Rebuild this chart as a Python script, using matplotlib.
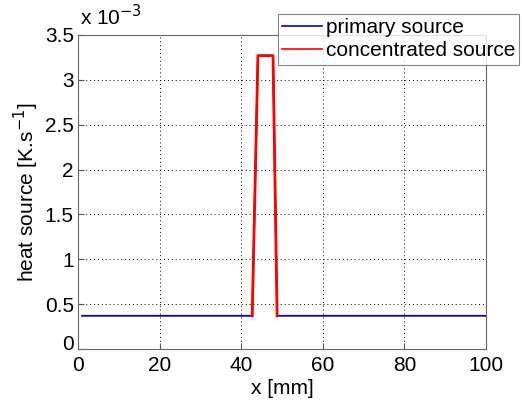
import matplotlib.pyplot as plt
import matplotlib.transforms as mtransforms
from matplotlib.ticker import FuncFormatter

plt.rcParams['font.family'] = ['Liberation Sans', 'DejaVu Sans']

# primary source (baseline with the peak underneath the red curve)
x_primary = [1, 42.7, 44.1, 47.8, 48.8, 100]
q_primary = [0.37e-3, 0.37e-3, 3.27e-3, 3.27e-3, 0.37e-3, 0.37e-3]

# concentrated source (only the peak)
x_conc = [42.7, 44.1, 47.8, 48.8]
q_conc = [0.37e-3, 3.27e-3, 3.27e-3, 0.37e-3]

x_ticks = [0, 20, 40, 60, 80, 100]
y_ticks = [0, 0.5e-3, 1e-3, 1.5e-3, 2e-3, 2.5e-3, 3e-3, 3.5e-3]

fs = 15

fig = plt.figure(figsize=(5.22, 4.04), dpi=100)
ax = fig.add_axes([78 / 522, 1 - 349 / 404, 408 / 522, 314 / 404])

ax.plot(x_primary, q_primary, color='#0000cc', lw=1.3, label='primary source')
ax.plot(x_conc, q_conc, color='#ff0000', lw=2.0, label='concentrated source')

ax.set_xlim(0, 100)
ax.set_ylim(0, 3.5e-3)
ax.set_xticks(x_ticks)
ax.set_yticks(y_ticks)
ax.yaxis.set_major_formatter(FuncFormatter(lambda v, p: f"{v * 1e3:g}"))
ax.grid(True, color='black', linestyle=(0, (1, 3)), linewidth=0.7)
ax.tick_params(direction='in', labelsize=fs, length=4, color='#555555')
ax.tick_params(axis='x', pad=5)
ax.tick_params(axis='y', pad=3)
for s in ax.spines.values():
    s.set_color('#666666')

ax.set_xlabel('x [mm]', fontsize=fs, labelpad=3)
ax.set_ylabel('heat source [K.s$^{-1}$]', fontsize=fs, labelpad=3)
fig.text(80 / 522, 1 - 17 / 404, 'x 10$^{-3}$', fontsize=fs, ha='left', va='center')

# MATLAB lifts the y "0" a little off the corner
fig.canvas.draw()
lab0 = ax.get_yticklabels()[0]
lab0.set_transform(lab0.get_transform() +
                   mtransforms.ScaledTranslation(0, 6 / 100, fig.dpi_scale_trans))

leg = fig.legend(loc='upper left', bbox_to_anchor=(278 / 522, 1 - 14 / 404),
                 fontsize=fs, frameon=True, fancybox=False, edgecolor='#666666',
                 handlelength=1.9, handletextpad=0.2, borderpad=0.2,
                 labelspacing=0.2, borderaxespad=0)
leg.get_frame().set_linewidth(0.8)
for line in leg.get_lines():
    line.set_linewidth(1.2)

fig.savefig('out.png', dpi=100)
